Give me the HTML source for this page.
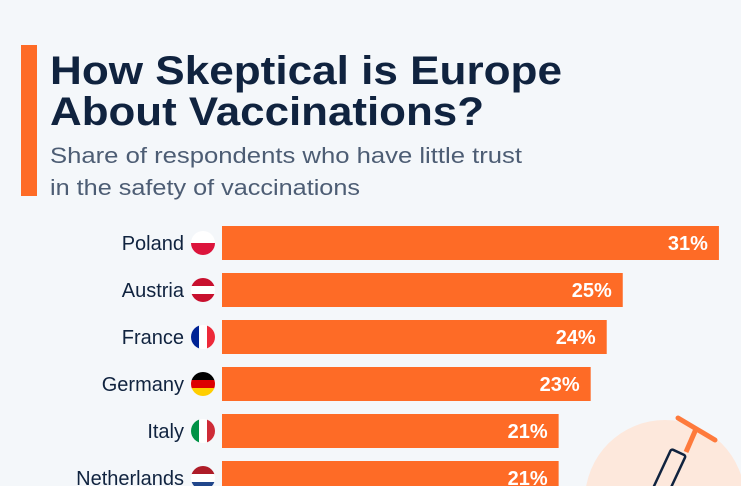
<!DOCTYPE html>
<html><head><meta charset="utf-8"><style>
html,body{margin:0;padding:0;background:#f4f7fa;width:741px;height:486px;overflow:hidden;}
svg{display:block;font-family:"Liberation Sans",sans-serif;overflow:hidden;}
</style></head><body>
<svg id="chart" width="741" height="486" viewBox="0 0 741 486">
<rect x="0" y="0" width="741" height="486" fill="#f4f7fa"/>
<rect x="21" y="45" width="16" height="151" fill="#fe6b26"/>
<text x="50" y="84" font-size="40" font-weight="bold" fill="#10233f" textLength="512" lengthAdjust="spacingAndGlyphs">How Skeptical is Europe</text>
<text x="50" y="125" font-size="40" font-weight="bold" fill="#10233f" textLength="434" lengthAdjust="spacingAndGlyphs">About Vaccinations?</text>
<text x="50" y="163" font-size="22" fill="#4d5d74" textLength="472" lengthAdjust="spacingAndGlyphs">Share of respondents who have little trust</text>
<text x="50" y="195" font-size="22" fill="#4d5d74" textLength="310" lengthAdjust="spacingAndGlyphs">in the safety of vaccinations</text>
<g>
<circle cx="665" cy="500" r="80" fill="#fde8dc"/>
<line x1="678" y1="418" x2="715" y2="440" stroke="#fe7a3c" stroke-width="5" stroke-linecap="round"/>
<line x1="696" y1="429" x2="686" y2="452" stroke="#fe7a3c" stroke-width="5"/>
<rect x="660" y="450" width="16" height="50" transform="rotate(25 668 475)" fill="none" stroke="#10233f" stroke-width="2.5" rx="2"/>
</g>
<g id="bars"></g>
</svg>
<script>
const categories = ["Poland","Austria","France","Germany","Italy","Netherlands"];
const values = [31,25,24,23,21,21];
const flags = [
 {type:"h",c:["#ffffff","#dc143c"]},
 {type:"h",c:["#c8102e","#ffffff","#c8102e"]},
 {type:"v",c:["#002395","#ffffff","#ed2939"]},
 {type:"h",c:["#000000","#dd0000","#ffce00"]},
 {type:"v",c:["#009246","#ffffff","#ce2b37"]},
 {type:"h",c:["#ae1c28","#ffffff","#21468b"]}
];
const NS="http://www.w3.org/2000/svg";
const g=document.getElementById("bars");
const x0=222, pxPer=16.03, y0=226, pitch=47, bh=34;
const xs=v=>x0+v*pxPer;
const ys=i=>y0+i*pitch;
function mk(t,a){const e=document.createElementNS(NS,t);for(const k in a)e.setAttribute(k,a[k]);return e;}
const defs=mk("defs",{});g.appendChild(defs);
categories.forEach((c,i)=>{
 const y=ys(i), cy=y+bh/2;
 const bar=mk("rect",{x:x0,y:y,width:xs(values[i])-x0,height:bh,fill:"#fe6b26"});
 
 
 g.appendChild(bar);
 const vl=mk("text",{x:xs(values[i])-11,y:cy+7,"font-size":20,"font-weight":"bold",fill:"#ffffff","text-anchor":"end"});
 vl.textContent=values[i]+"%";
 
 
 g.appendChild(vl);
 const lb=mk("text",{x:184,y:cy+7,"font-size":20,fill:"#10233f","text-anchor":"end"});
 lb.textContent=c;
 
 
 g.appendChild(lb);
 const cp=mk("clipPath",{id:"cp"+i});cp.appendChild(mk("circle",{cx:203,cy:cy,r:12}));defs.appendChild(cp);
 const fg=mk("g",{"clip-path":"url(#cp"+i+")"});
 
 
 const f=flags[i], n=f.c.length;
 f.c.forEach((col,k)=>{
  if(f.type==="h") fg.appendChild(mk("rect",{x:191,y:cy-12+k*24/n,width:24,height:24/n+0.5,fill:col}));
  else fg.appendChild(mk("rect",{x:191+k*24/n,y:cy-12,width:24/n+0.5,height:24,fill:col}));
 });
 g.appendChild(fg);
});
</script>
</body></html>
